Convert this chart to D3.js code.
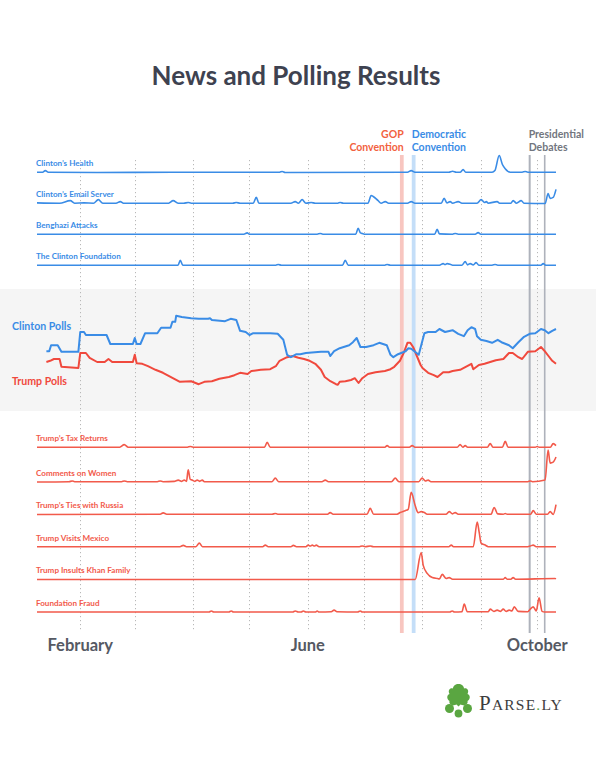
<!DOCTYPE html>
<html><head><meta charset="utf-8">
<script src="https://cdn.jsdelivr.net/npm/d3@7"></script>
<style>body{margin:0;background:#fff}svg{display:block}</style>
</head><body><svg id="chart" width="596" height="759"></svg>
<script>
// ---------- DATA (x values are day-of-year 2016, Jan 1 = 0) ----------
const title = "News and Polling Results";
const monthTicks = [31, 60, 91, 121, 152, 182, 213, 244, 274];
const monthLabels = ["February", "June", "October"];
const monthLabelDays = [31, 152, 274];
const gopConvention = [201, 203];
const demConvention = [207.3, 209.3];
const debateDays = [270, 278];

const clintonTopicNames = ["Clinton\u2019s Health", "Clinton\u2019s Email Server", "Benghazi Attacks", "The Clinton Foundation"];
const trumpTopicNames = ["Trump\u2019s Tax Returns", "Comments on Women", "Trump\u2019s Ties with Russia", "Trump Visits Mexico", "Trump Insults Khan Family", "Foundation Fraud"];

const clintonHealth = [[8,1],[11,1],[12.4,6],[14,1],[40,0],[80,1],[137,1],[138.4,3],[140,0],[205,1],[207,6],[209,1],[227,1],[229,4],[231,1],[233,1],[234.6,9],[236,1],[250,1],[251.5,6],[253.8,53],[255.5,25],[257,12],[259.6,1],[266,1],[267.6,3],[269,1],[284,1]];
const clintonEmail = [[8,2],[20,1],[25.7,9],[28,1],[33,2],[38,1],[40.6,12],[43,1],[50,1],[52.3,6],[54,1],[70,1],[78,1],[80.4,9],[83,1],[86,1],[88.4,3],[90,1],[112,1],[114,3],[116,1],[123,1],[124.6,19],[126,1],[143,1],[145.3,6],[147,1],[149,12],[151,1],[153.8,3],[156,1],[168,1],[169.2,3],[171,1],[184,1],[185.7,25],[186.8,22],[189.4,9],[191,1],[193.2,6],[195,1],[205,1],[207,6],[209,1],[223,1],[224.5,16],[226,2],[227.7,6],[229,1],[232,6],[234,1],[242,1],[244.2,12],[246,3],[246.9,6],[248,1],[252.7,6],[254,1],[260,1],[261.2,9],[263,1],[265.5,9],[267,1],[278.2,0],[279.8,31],[280.9,16],[282.5,19],[284,44]];
const clintonBenghazi = [[8,1],[60,1],[118,1],[119.8,5],[121,1],[157,1],[158.6,3],[160,1],[177.5,1],[178.8,19],[180,5],[181,3],[182,1],[219.5,1],[220.8,16],[222,2],[229,1],[230.4,3],[232,1],[241,1],[242.6,6],[244,1],[284,1]];
const clintonFoundation = [[8,1],[83,1],[84.2,16],[85.5,1],[135,1],[136.3,3],[138,1],[170.5,1],[171.9,16],[173.5,1],[193,1],[194.2,3],[196,1],[222,1],[224,6],[225,3],[226.1,6],[227.7,4],[229,1],[234,1],[235.7,12],[237,2],[238.4,6],[240,2],[241.5,9],[243,1],[250,1],[251.6,3],[253,1],[276,1],[277.2,6],[278.5,1],[284,1]];

const trumpTax = [[8,1],[52,1],[54.4,9],[56.5,1],[88,1],[89.5,3],[91,1],[129,1],[130.4,16],[132,1],[193,1],[194.2,6],[195.5,1],[206,1],[207.5,6],[209,1],[231.5,1],[233,9],[234.5,1],[235.7,6],[237,1],[247.5,1],[249,12],[250.5,1],[255.5,1],[257,19],[258.5,1],[273,1],[274,3],[275,1],[281,1],[282.5,12],[284,6]];
const trumpWomen = [[8,0],[25,1],[26.7,3],[28,1],[53,1],[54.4,3],[56,1],[72,1],[73.5,3],[75,1],[81,2],[83.1,6],[85,2],[86.3,6],[87.5,2],[88.4,38],[89.5,8],[90.5,6],[92,2],[93.2,6],[94.5,2],[95.9,6],[97,1],[133,1],[134.7,12],[136.5,1],[159.5,1],[161.3,6],[163,1],[196.5,1],[198.5,12],[200.5,1],[211,1],[212.8,12],[214.5,3],[216,6],[217.5,1],[269,1],[270.3,3],[271.5,1],[278.2,6],[279.8,100],[280.9,59],[282.5,62],[284,78]];
const trumpRussia = [[8,0],[73.5,1],[75.1,5],[77,1],[133,1],[134.7,3],[136,1],[162.5,1],[163.9,6],[165.5,1],[183.5,1],[185.2,19],[187,1],[199.5,1],[201.1,6],[203.8,12],[205.4,16],[207,69],[209.1,28],[210.7,6],[212.3,9],[214,6],[215.5,1],[225.5,1],[227.2,9],[229,2],[230.4,6],[232,1],[249.5,1],[251.1,22],[253,2],[256,1],[257,3],[258,1],[270.5,1],[271.9,12],[273.5,1],[279.5,1],[280.9,9],[282.5,0],[284,31]];
const trumpMexico = [[8,1],[84,1],[85.8,5],[87.5,1],[92.5,1],[94.3,12],[96,1],[128,1],[129.4,6],[131,1],[143,1],[144.3,5],[146,1],[151,1],[152.2,6],[153.3,3],[154.4,6],[155.5,3],[156.5,6],[158,1],[179.5,1],[180.9,3],[182.5,1],[185.2,3],[187,1],[227,1],[228.3,6],[229.5,1],[240,1],[242.1,78],[243.2,44],[244.2,12],[246.3,6],[248,1],[269,1],[270.3,3],[271.9,6],[273.5,1],[284,1]];
const trumpKhan = [[8,0],[209.1,0],[212.3,84],[213.4,44],[215.5,19],[218.2,6],[221,3],[222,2],[223.5,16],[225.6,3],[227.2,6],[229,1],[256,1],[257,6],[258,1],[260,1],[261.2,6],[262.5,1],[283.5,3],[284,2]];
const trumpFraud = [[8,0],[99.5,0],[100.7,3],[102,0],[110,0],[111.3,3],[112.5,0],[144,0],[145.3,3],[147,0],[148.5,0],[149.6,3],[151,0],[156,0],[157,3],[158,0],[164.5,1],[166,6],[167.5,1],[178.5,0],[179.9,3],[181,0],[227.5,0],[228.8,3],[230,0],[234,1],[235.2,25],[236.8,1],[248,1],[249,9],[251,2],[252.7,6],[254.5,2],[255.9,9],[257.5,2],[259.1,6],[260.5,3],[261.8,16],[263.9,2],[269,1],[270.3,9],[271.9,16],[273.5,3],[275,44],[276.6,2],[278,0],[284,0]];

const clintonPolls = [[13,42.3],[14.5,42.3],[15.5,43.3],[19,43.3],[21,42.2],[30,42.2],[31,45.5],[33,45.5],[34,45],[45,45],[47,43.5],[59,43.5],[60,44.5],[61,43.5],[63,43.5],[65.5,45.3],[72,45.3],[74,46.2],[79,46.2],[80,47.2],[81.5,47.2],[82,48.2],[85,48],[90,47.8],[94,47.7],[99,47.7],[100,47.8],[101,47.5],[108,47.3],[111,47.7],[114,47.5],[116,45.7],[119,45.5],[121,45],[123,45.3],[132,45.3],[136,45.2],[139,44.2],[141,41.7],[143,41.3],[146,41.8],[148,41.8],[151,42],[159,42.2],[163,42.2],[164,41.5],[166,42.3],[169,42.8],[174,43.3],[176,43.8],[178,44.5],[180,43],[183,43],[187,43.3],[190,43.7],[194,43.3],[196,41.7],[197.5,41.3],[200,41.8],[204,42.3],[205.5,42.8],[207,42.7],[209,42.2],[211,41.7],[214,45.3],[216,45.5],[220,45.5],[222,46],[225,45.5],[229,45.8],[232,45.2],[235,44.8],[237,45.8],[239,46.3],[241,46],[242,44.8],[244,44.2],[247,44],[250,43.7],[253,44.2],[255,43.8],[259,43.3],[261,42.8],[264,43.8],[267,44.7],[270,45.2],[273,45.3],[276,46],[278,45.8],[280,45.3],[282,45.7],[284,46]];
const trumpPolls = [[13,40.5],[15,40.7],[17,41],[20,41],[21,39.7],[30,39.5],[31,42],[34,42],[36,41.2],[40,40.5],[44,40.5],[46,41],[48,40.5],[59,40.5],[60,41.7],[61,40.3],[64,40.2],[67,39.8],[71,39.2],[75,38.7],[78,38.2],[81,37.7],[84,37.2],[90,37.3],[94,36.8],[97,37.2],[101,37.3],[105,37.7],[110,38],[113,38.3],[116,38.7],[120,38.5],[122,39],[127,39.2],[132,39.3],[135,39.8],[137,40.7],[141,41.3],[144,41.5],[147,41.2],[150,41],[153,40.7],[156,40.2],[159,39.2],[161,38],[164,37.3],[167,36.8],[168,36.7],[169,37.2],[172,37.3],[175,37.5],[177,37.8],[179,37],[181,37.8],[184,38.5],[188,38.8],[193,39],[196,39.3],[198,39.7],[201,40.7],[203,42],[205,43.7],[206.5,43.7],[208,43],[210,41.5],[212,40],[213,39.5],[216,38.7],[219,38.3],[221,38],[224,38.8],[227,38.8],[229,39],[233,39.2],[236,39.7],[239,40.2],[240,39.3],[243,40],[246,40.2],[249,40.5],[252,40.8],[256,41],[259,42],[261,42],[264,41.3],[266,41],[269,42.2],[273,42.3],[276,43],[278,42.3],[280,41.5],[282,40.7],[284,40.2]];

const clintonTopicSeries = [clintonHealth, clintonEmail, clintonBenghazi, clintonFoundation];
const trumpTopicSeries = [trumpTax, trumpWomen, trumpRussia, trumpMexico, trumpKhan, trumpFraud];

// ---------- DRAW ----------
const BLUE = "#3a8ce6", RED = "#f0493d", RED2 = "#f25a4b", GRAY = "#3e4250";
const svg = d3.select("#chart");
const base = new Date(2016, 0, 1).getTime();
const toDate = d => new Date(base + d * 864e5);

const x = d3.scaleTime().domain([toDate(8), toDate(284)]).range([37, 556]);
const yTopic = d3.scaleLinear().domain([0, 100]).range([0, 32]);
const yPoll = d3.scaleLinear().domain([35, 50]).range([395, 305]);

const FONT = "Lato, 'Open Sans', sans-serif";

// title
svg.append("text").attr("x", 296).attr("y", 85).attr("text-anchor", "middle")
  .attr("font-family", FONT).attr("font-weight", 700).attr("font-size", 26)
  .attr("fill", GRAY).text(title);

// poll band
svg.append("rect").attr("x", 0).attr("y", 289).attr("width", 596).attr("height", 122).attr("fill", "#f5f5f5");

// month gridlines
svg.append("g").selectAll("line").data(monthTicks).join("line")
  .attr("x1", d => Math.round(x(toDate(d))) + 0.5).attr("x2", d => Math.round(x(toDate(d))) + 0.5)
  .attr("y1", 160).attr("y2", 631)
  .attr("stroke", "#b8b8b8").attr("stroke-width", 1).attr("stroke-dasharray", "1.2,2.8");

// convention bands
svg.append("rect").attr("x", x(toDate(gopConvention[0]))).attr("width", x(toDate(gopConvention[1])) - x(toDate(gopConvention[0])))
  .attr("y", 155).attr("height", 478).attr("fill", "#f8c6c0");
svg.append("rect").attr("x", x(toDate(demConvention[0]))).attr("width", x(toDate(demConvention[1])) - x(toDate(demConvention[0])))
  .attr("y", 155).attr("height", 478).attr("fill", "#c4def8");

// debate lines
svg.append("g").selectAll("line").data(debateDays).join("line")
  .attr("x1", d => x(toDate(d))).attr("x2", d => x(toDate(d)))
  .attr("y1", 155).attr("y2", 633)
  .attr("stroke", "#aeb2bb").attr("stroke-width", (d, i) => i === 0 ? 2 : 1.6);

// annotations
const ann = svg.append("g").attr("font-family", FONT).attr("font-weight", 700).attr("font-size", 10.5);
ann.append("text").attr("x", x(toDate(gopConvention[1]))).attr("y", 137.5).attr("text-anchor", "end").attr("fill", "#f2623f").text("GOP");
ann.append("text").attr("x", x(toDate(gopConvention[1]))).attr("y", 150.5).attr("text-anchor", "end").attr("fill", "#f2623f").text("Convention");
ann.append("text").attr("x", x(toDate(demConvention[0]))).attr("y", 137.5).attr("fill", BLUE).text("Democratic");
ann.append("text").attr("x", x(toDate(demConvention[0]))).attr("y", 150.5).attr("fill", BLUE).text("Convention");
ann.append("text").attr("x", x(toDate(debateDays[0])) - 1).attr("y", 137.5).attr("fill", "#72767e").text("Presidential");
ann.append("text").attr("x", x(toDate(debateDays[0])) - 1).attr("y", 150.5).attr("fill", "#72767e").text("Debates");

// topic rows
const topicLine = baseY => d3.line().x(d => x(toDate(d[0]))).y(d => baseY - yTopic(d[1])).curve(d3.curveMonotoneX);
const clintonBase = [172.5, 203.5, 234.5, 265.5];
const trumpBase = [447.5, 482, 514.5, 547, 579.5, 612];

function drawRows(names, series, bases, lineColor, labelColor) {
  const g = svg.append("g");
  series.forEach((s, i) => {
    g.append("path").attr("d", topicLine(bases[i])(s)).attr("fill", "none")
      .attr("stroke", lineColor).attr("stroke-width", 1.6).attr("stroke-linejoin", "round");
    g.append("text").attr("x", 36).attr("y", bases[i] - 6.5)
      .attr("font-family", FONT).attr("font-weight", 700).attr("font-size", 8.1)
      .attr("fill", labelColor).text(names[i]);
  });
}
drawRows(clintonTopicNames, clintonTopicSeries, clintonBase, BLUE, BLUE);
drawRows(trumpTopicNames, trumpTopicSeries, trumpBase, RED2, RED2);

// polls
const pollLine = d3.line().x(d => x(toDate(d[0]))).y(d => yPoll(d[1]));
svg.append("path").attr("d", pollLine(trumpPolls)).attr("fill", "none").attr("stroke", RED).attr("stroke-width", 2).attr("stroke-linejoin", "round");
svg.append("path").attr("d", pollLine(clintonPolls)).attr("fill", "none").attr("stroke", BLUE).attr("stroke-width", 2).attr("stroke-linejoin", "round");
svg.append("text").attr("x", 12).attr("y", 330).attr("font-family", FONT).attr("font-weight", 700).attr("font-size", 10.6).attr("fill", BLUE).text("Clinton Polls");
svg.append("text").attr("x", 12).attr("y", 385).attr("font-family", FONT).attr("font-weight", 700).attr("font-size", 10.6).attr("fill", RED).text("Trump Polls");

// month labels
svg.append("g").selectAll("text").data(monthLabels).join("text")
  .attr("x", (d, i) => x(toDate(monthLabelDays[i]))).attr("y", 651)
  .attr("text-anchor", "middle").attr("font-family", FONT).attr("font-weight", 700)
  .attr("font-size", 16.5).attr("fill", "#555963").text(d => d);

// logo
const logo = svg.append("g").attr("transform", "translate(458.5,700)");
const GREEN = "#5aa641";
logo.append("path").attr("d", "M0,-16 C3,-16 5.5,-14 5.5,-11.5 C8.5,-12.5 11,-9.5 9,-6 C12,-5 12,-1 9,1 C10,4.5 5.5,6.5 2,4.5 L0,6.5 L-2,4.5 C-5.5,6.5 -10,4.5 -9,1 C-12,-1 -12,-5 -9,-6 C-11,-9.5 -8.5,-12.5 -5.5,-11.5 C-5.5,-14 -3,-16 0,-16Z").attr("fill", GREEN);
logo.append("circle").attr("cx", -9).attr("cy", 8.5).attr("r", 4.5).attr("fill", GREEN);
logo.append("circle").attr("cx", 9).attr("cy", 8.5).attr("r", 4.5).attr("fill", GREEN);
logo.append("circle").attr("cx", 0).attr("cy", 13.5).attr("r", 3.9).attr("fill", GREEN);
const lt = svg.append("text").attr("x", 479).attr("y", 709.5).attr("font-family", "'Liberation Serif', 'DejaVu Serif', serif").attr("fill", "#3c3c3c").attr("letter-spacing", 1.2);
lt.append("tspan").attr("font-size", 21).text("P");
lt.append("tspan").attr("font-size", 15.5).text("ARSE");
lt.append("tspan").attr("font-size", 15.5).attr("fill", GREEN).text(".");
lt.append("tspan").attr("font-size", 15.5).text("LY");
</script></body></html>
